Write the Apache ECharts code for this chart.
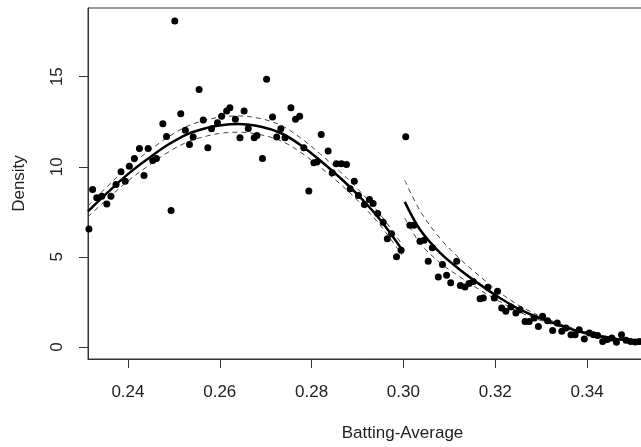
<!DOCTYPE html>
<html>
<head>
<meta charset="utf-8">
<script src="https://cdn.jsdelivr.net/npm/echarts@6/dist/echarts.min.js"></script>
<style>html,body{margin:0;padding:0;background:#fff}#c{width:641px;height:447px}</style>
</head>
<body>
<div id="c"></div>
<script>
// Observed points (batting average, density)
const pointX = [0.2315,0.2323,0.2332,0.2343,0.2354,0.2363,0.2374,0.2385,0.2394,0.2403,0.2414,0.2425,0.2435,0.2444,0.2454,0.2462,0.2476,0.2484,0.2494,0.2502,0.2515,0.2525,0.2534,0.2542,0.2555,0.2564,0.2574,0.2582,0.2595,0.2604,0.2615,0.2622,0.2634,0.2644,0.2653,0.2662,0.2675,0.2681,0.2693,0.2702,0.2715,0.2724,0.2733,0.2742,0.2755,0.2765,0.2774,0.2783,0.2794,0.2805,0.2812,0.2821,0.2836,0.2845,0.2854,0.2865,0.2876,0.2884,0.2893,0.2902,0.2915,0.2926,0.2934,0.2944,0.2956,0.2965,0.2974,0.2985,0.2995,0.3005,0.3014,0.3023,0.3036,0.3045,0.3054,0.3063,0.3076,0.3085,0.3094,0.3103,0.3116,0.3124,0.3134,0.3143,0.3152,0.3167,0.3174,0.3184,0.3198,0.3205,0.3214,0.3223,0.3234,0.3245,0.3254,0.3265,0.3274,0.3285,0.3294,0.3303,0.3314,0.3325,0.3335,0.3345,0.3354,0.3365,0.3374,0.3383,0.3394,0.3405,0.3414,0.3423,0.3434,0.3444,0.3454,0.3464,0.3475,0.3485,0.3495,0.3505,0.3514];
const pointY = [6.55,8.74,8.28,8.37,7.94,8.37,9.02,9.72,9.20,10.03,10.46,11.02,9.52,11.02,10.35,10.46,12.39,11.68,7.57,18.09,12.94,12.02,11.24,11.65,14.29,12.59,11.05,12.11,12.44,12.81,13.09,13.28,12.63,11.61,13.09,12.13,11.61,11.74,10.46,14.85,12.76,11.65,12.11,11.61,13.28,12.63,12.81,11.05,8.65,10.22,10.28,11.79,10.87,9.67,10.17,10.17,10.13,8.78,9.20,8.41,7.91,8.18,7.96,7.41,6.92,6.00,6.29,5.00,5.37,11.67,6.76,6.76,5.87,5.92,4.76,5.50,3.89,4.57,3.98,3.56,4.76,3.41,3.33,3.52,3.64,2.67,2.72,3.31,2.72,3.09,2.16,1.98,2.22,1.89,2.07,1.42,1.42,1.61,1.14,1.70,1.46,0.91,1.33,0.87,1.06,0.68,0.68,0.96,0.44,0.78,0.68,0.64,0.31,0.41,0.50,0.26,0.68,0.37,0.31,0.28,0.31];

// Fitted curve and band, left piece
const fitLeftX = [0.2313,0.2356,0.2400,0.2444,0.2487,0.2531,0.2574,0.2603,0.2640,0.2690,0.2734,0.2775,0.2818,0.2862,0.2905,0.2949,0.2997];
const fitLeftY = [7.53,8.58,9.59,10.45,11.22,11.83,12.17,12.31,12.37,12.22,11.86,11.22,10.36,9.39,8.33,7.07,5.40];
const bandLeftUpper = [7.83,8.93,9.97,10.85,11.64,12.27,12.62,12.76,12.82,12.67,12.29,11.62,10.73,9.73,8.65,7.37,5.70];
const bandLeftLower = [7.23,8.23,9.21,10.05,10.80,11.39,11.72,11.86,11.92,11.77,11.43,10.82,9.99,9.05,8.01,6.77,5.10];

// Fitted curve and band, right piece
const fitRightX = [0.3003,0.3036,0.3080,0.3123,0.3167,0.3210,0.3254,0.3305,0.3377,0.3450,0.3520];
const fitRightY = [8.05,6.52,5.22,4.29,3.46,2.72,2.07,1.52,0.91,0.50,0.30];
const bandRightUpper = [9.25,7.57,6.02,4.89,3.91,3.02,2.27,1.64,0.99,0.56,0.35];
const bandRightLower = [7.15,5.77,4.67,3.89,3.16,2.52,1.92,1.42,0.84,0.45,0.26];

// Tick labels
const xTicks = [0.24,0.26,0.28,0.30,0.32,0.34];
const yTicks = [0,5,10,15];

const zip = (xs, ys) => xs.map((x, i) => [x, ys[i]]);
const FONT = "'Liberation Sans', Arial, sans-serif";
const TXT = '#222';
const AX = '#333';

const chart = echarts.init(document.getElementById('c'), null, {renderer: 'canvas'});

function lineSeries(xs, ys, width, type, color) {
  return {
    type: 'line', data: zip(xs, ys), smooth: 0.35,
    showSymbol: false, symbol: 'none', silent: true, z: 2,
    lineStyle: {color: color, width: width, type: type}
  };
}

chart.setOption({
  animation: false,
  grid: {left: 88, top: 8, bottom: 88, width: 629, outerBoundsMode: 'none', containLabel: false,
         show: true, borderColor: AX, borderWidth: 1, backgroundColor: 'transparent'},
  xAxis: {
    type: 'value', min: 0.2313, max: 0.3683,
    splitLine: {show: false},
    axisLine: {show: true, onZero: false, lineStyle: {color: AX, width: 1}},
    axisTick: {show: true, customValues: xTicks, length: 9, lineStyle: {color: AX}},
    axisLabel: {customValues: xTicks, formatter: v => v.toFixed(2), fontSize: 17, fontFamily: FONT, color: TXT, margin: 25},
    name: 'Batting-Average', nameLocation: 'middle', nameGap: 66,
    nameTextStyle: {fontSize: 17, fontFamily: FONT, color: TXT}
  },
  yAxis: {
    type: 'value', min: -0.667, max: 18.81,
    splitLine: {show: false},
    axisLine: {show: true, onZero: false, lineStyle: {color: AX, width: 1}},
    axisTick: {show: true, customValues: yTicks, length: 9, lineStyle: {color: AX}},
    axisLabel: {customValues: yTicks, rotate: 90, fontSize: 17, fontFamily: FONT, color: TXT, margin: 22},
    name: 'Density', nameLocation: 'middle', nameRotate: 90, nameGap: 60,
    nameTextStyle: {fontSize: 17, fontFamily: FONT, color: TXT}
  },
  series: [
    lineSeries(fitLeftX, bandLeftUpper, 1, [5, 4], '#444'),
    lineSeries(fitLeftX, bandLeftLower, 1, [5, 4], '#444'),
    lineSeries(fitRightX, bandRightUpper, 1, [5, 4], '#444'),
    lineSeries(fitRightX, bandRightLower, 1, [5, 4], '#444'),
    {type: 'scatter', data: zip(pointX, pointY), symbol: 'circle', symbolSize: 7, itemStyle: {color: '#000', opacity: 1}, z: 3, silent: true},
    lineSeries(fitLeftX, fitLeftY, 2.5, 'solid', '#000'),
    lineSeries(fitRightX, fitRightY, 2.5, 'solid', '#000')
  ]
});
</script>
</body>
</html>
